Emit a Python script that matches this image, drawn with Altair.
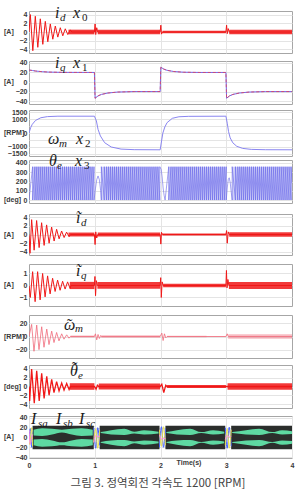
import altair as alt
import pandas as pd

# ------------------------------------------------------------------ data
time_ticks = [0, 1, 2, 3, 4]
time_grid = [1, 2, 3]

# panel 1 : i_d with estimate x0 [A]   (t, value)
id_pts = [(0.0, 0.0), (0.02, 4.1), (0.058, -4.4), (0.096, 3.7), (0.134, -3.6), (0.172, 3.1),
          (0.21, -2.9), (0.248, 2.5), (0.286, -2.3), (0.324, 1.9), (0.362, -1.7), (0.40, 1.4),
          (0.438, -1.2), (0.476, 1.0), (0.514, -0.9), (0.552, 0.75), (0.59, -0.6), (0.628, 0.5),
          (0.65, 0.0), (0.995, 0.0), (1.005, 1.9), (1.015, -0.6), (1.03, 1.0), (1.045, 0.0),
          (1.995, 0.0), (2.005, 1.6), (2.015, -0.5), (2.03, 0.0), (2.995, 0.0), (3.005, 1.6),
          (3.015, -0.4), (3.03, 0.8), (3.045, 0.0), (4.0, 0.0)]
# ripple envelopes (t_start, t_end, half amplitude)
id_ripple = [(0.6, 0.995, 0.55), (1.045, 1.995, 0.5), (2.03, 2.995, 0.28), (3.045, 4.0, 0.55)]

# panel 2 : i_q and estimate x1 [A]
iq_pts = [(0.0, 25), (0.05, 24.2), (0.1, 23), (0.2, 21.6), (0.3, 20.8), (0.5, 20.2), (0.995, 20),
          (1.005, -34), (1.05, -29), (1.1, -26), (1.2, -23), (1.35, -21), (1.6, -20), (1.995, -20),
          (2.005, 31), (2.05, 27), (2.1, 24.5), (2.2, 22), (2.35, 20.5), (2.6, 20), (2.995, 20),
          (3.005, -34), (3.05, -29), (3.1, -26), (3.2, -23), (3.35, -21), (3.6, -20), (4.0, -20)]

# panel 3 : omega_m and estimate x2 [RPM]
wm_pts = [(0.0, 0), (0.025, 380), (0.05, 620), (0.1, 900), (0.18, 1090), (0.28, 1170), (0.44, 1200),
          (0.995, 1200), (1.025, 860), (1.05, 260), (1.086, -210), (1.15, -690), (1.25, -1000),
          (1.4, -1150), (1.6, -1190), (1.995, -1200), (2.016, -570), (2.036, 0), (2.066, 430),
          (2.1, 740), (2.18, 1050), (2.28, 1160), (2.43, 1190), (2.995, 1200), (3.015, 700),
          (3.035, 100), (3.06, -350), (3.1, -700), (3.16, -950), (3.25, -1100), (3.38, -1170),
          (3.6, -1195), (4.0, -1200)]

# panel 4 : theta_e and estimate x3 [deg] : wrap instants of the saw-tooth + slow turning points
th_up1 = [0.055, 0.09, 0.12, 0.15, 0.18, 0.21, 0.24, 0.27, 0.30, 0.33, 0.36, 0.39, 0.42, 0.45,
          0.48, 0.51, 0.54, 0.57, 0.60, 0.63, 0.66, 0.69, 0.72, 0.75, 0.78, 0.81, 0.84, 0.87,
          0.90, 0.93, 0.96, 0.99]
th_bump1 = [(1.01, 120), (1.03, 220), (1.05, 260), (1.07, 220), (1.09, 100), (1.10, 0)]
th_dn1 = [1.10, 1.145, 1.18, 1.21, 1.24, 1.27, 1.30, 1.33, 1.36, 1.39, 1.42, 1.45, 1.48, 1.51,
          1.54, 1.57, 1.60, 1.63, 1.66, 1.69, 1.72, 1.75, 1.78, 1.81, 1.84, 1.87, 1.90, 1.93,
          1.96, 1.99]
th_bump2 = [(1.99, 360), (2.01, 330), (2.025, 250), (2.04, 130), (2.055, 50), (2.07, 0)]
th_up2 = [2.125, 2.16, 2.19, 2.22, 2.25, 2.28, 2.31, 2.34, 2.37, 2.40, 2.43, 2.46, 2.49, 2.52,
          2.55, 2.58, 2.61, 2.64, 2.67, 2.70, 2.73, 2.76, 2.79, 2.82, 2.85, 2.88, 2.91, 2.94,
          2.97, 3.0]
th_bump3 = [(3.015, 130), (3.03, 220), (3.045, 240), (3.06, 190), (3.075, 90), (3.09, 0)]
th_dn2 = [3.09, 3.14, 3.175, 3.205, 3.235, 3.265, 3.295, 3.325, 3.355, 3.385, 3.415, 3.445,
          3.475, 3.505, 3.535, 3.565, 3.595, 3.625, 3.655, 3.685, 3.715, 3.745, 3.775, 3.805,
          3.835, 3.865, 3.895, 3.925, 3.955, 3.985]
th_end = [(4.0, 180)]

# panel 5 : estimation error of i_d [A]
eid_pts = [(0.0, 0.0), (0.015, -4.3), (0.04, 3.4), (0.078, -3.6), (0.116, 3.2), (0.154, -3.0),
           (0.192, 2.7), (0.23, -2.5), (0.268, 2.2), (0.306, -2.0), (0.344, 1.7), (0.382, -1.5),
           (0.42, 1.2), (0.458, -1.0), (0.496, 0.8), (0.534, -0.7), (0.572, 0.55), (0.61, -0.5),
           (0.63, 0.0), (0.995, 0.0), (1.005, -2.3), (1.015, 0.6), (1.03, -0.8), (1.045, 0.0),
           (1.995, 0.0), (2.005, -2.2), (2.015, 0.5), (2.03, 0.0), (2.995, 0.0), (3.005, 0.9),
           (3.015, -2.0), (3.03, 0.6), (3.045, 0.0), (4.0, 0.0)]
eid_ripple = [(0.6, 0.995, 0.45), (1.045, 1.995, 0.45), (2.03, 2.995, 0.25), (3.045, 4.0, 0.5)]

# panel 6 : estimation error of i_q [A]
eiq_pts = [(0.0, 0.0), (0.02, -1.0), (0.055, 1.15), (0.093, -1.35), (0.131, 1.15), (0.169, -1.2),
           (0.207, 1.0), (0.245, -0.95), (0.283, 0.8), (0.321, -0.7), (0.359, 0.6), (0.397, -0.5),
           (0.435, 0.45), (0.473, -0.4), (0.511, 0.35), (0.549, -0.3), (0.587, 0.3), (0.625, -0.25),
           (0.64, 0.0), (0.995, 0.0), (1.003, 0.75), (1.012, -0.85), (1.025, 0.4), (1.04, 0.0),
           (1.995, 0.0), (2.003, 0.65), (2.012, -1.0), (2.025, 0.3), (2.04, 0.0), (2.995, 0.0),
           (3.003, 1.25), (3.012, -0.2), (3.025, 0.5), (3.04, 0.0), (4.0, 0.0)]
eiq_ripple = [(0.62, 0.995, 0.3), (1.04, 1.995, 0.28), (2.04, 2.995, 0.15), (3.04, 4.0, 0.3)]

# panel 7 : estimation error of omega_m [RPM]
ewm_pts = [(0.0, 0.0), (0.04, 18), (0.076, -22), (0.117, 17), (0.152, -19.5), (0.193, 14.5),
           (0.228, -16), (0.27, 11), (0.304, -12), (0.345, 8), (0.38, -9), (0.42, 6),
           (0.456, -6.5), (0.497, 4), (0.532, -4), (0.573, 2.5), (0.608, -2.5), (0.63, 0.0),
           (0.995, 0.0), (1.01, 4), (1.03, -5), (1.05, 3), (1.07, -3), (1.09, 1.5), (1.1, 0.0),
           (1.995, 0.0), (2.02, 5), (2.04, -6), (2.06, 4), (2.08, -2), (2.1, 0.0),
           (2.995, 0.0), (3.015, 4), (3.03, 0.0), (4.0, 0.0)]
ewm_ripple = [(0.63, 0.995, 1.5), (1.1, 1.995, 2.0), (2.1, 2.7, 1.2), (2.7, 2.995, 0.3), (3.03, 4.0, 3.5)]

# panel 8 : estimation error of theta_e [deg]
eth_pts = [(0.0, 0.0), (0.01, -3.3), (0.04, 4.0), (0.08, -3.8), (0.117, 3.6), (0.155, -3.3),
           (0.193, 3.0), (0.23, -2.7), (0.27, 2.3), (0.305, -2.0), (0.345, 1.6), (0.38, -1.4),
           (0.42, 1.1), (0.457, -1.0), (0.497, 0.8), (0.533, -0.8), (0.573, 0.7), (0.61, -0.7),
           (0.63, 0.0), (0.995, 0.0), (1.02, -0.6), (1.04, 0.3), (1.06, 0.0), (1.995, 0.0),
           (2.02, 0.5), (2.05, -1.4), (2.08, 0.3), (2.1, 0.0), (2.995, 0.0), (3.02, 0.0), (4.0, 0.0)]
eth_ripple = [(0.62, 0.995, 0.75), (1.06, 1.995, 0.7), (2.1, 2.995, 0.35), (3.02, 4.0, 0.75)]

# panel 9 : phase currents Isa, Isb, Isc [A]
iabc_peak = 24
iabc_dense = [(0.055, 0.985), (1.075, 1.985), (2.075, 2.985), (3.075, 4.0)]
# light (beat) lenses of the dense phase currents: (t, inner, outer) mirrored about 0
iabc_beat = [
    [(0.07, 4, 16), (0.2, 3, 19), (0.35, 6, 18), (0.5, 10, 16), (0.65, 6, 18), (0.8, 3, 19), (0.97, 4, 16)],
    [(1.09, 9, 11), (1.25, 6, 15), (1.45, 5, 18), (1.6, 8, 12), (1.75, 6, 15), (1.97, 8, 12)],
    [(2.09, 9, 11), (2.25, 6, 15), (2.45, 5, 18), (2.62, 9, 11), (2.8, 6, 15), (2.97, 8, 12)],
    [(3.09, 9, 11), (3.3, 6, 15), (3.5, 5, 18), (3.7, 9, 11), (3.85, 6, 15), (4.0, 7, 13)],
]
# slow phase currents while the speed reverses
isa_rev = [[(0.0, 0), (0.02, 18), (0.04, -20), (0.055, 12)],
           [(0.985, 20), (1.015, -22), (1.045, 20), (1.075, -16)],
           [(1.985, -20), (2.015, 22), (2.045, -20), (2.075, 18)],
           [(2.985, 20), (3.015, -22), (3.045, 21), (3.075, -18)]]
isb_rev = [[(0.0, -15), (0.02, -5), (0.04, 20), (0.055, -18)],
           [(0.985, -10), (1.015, 18), (1.045, -22), (1.075, 14)],
           [(1.985, 15), (2.015, -18), (2.045, 22), (2.075, -16)],
           [(2.985, -16), (3.015, 18), (3.045, -22), (3.075, 16)]]
isc_rev = [[(0.0, 15), (0.02, -14), (0.04, 0), (0.055, 6)],
           [(0.985, -10), (1.015, 4), (1.045, 2), (1.075, 2)],
           [(1.985, 5), (2.015, -4), (2.045, -2), (2.075, -2)],
           [(2.985, -4), (3.015, 4), (3.045, 1), (3.075, 2)]]

caption = "그림 3. 정역회전 각속도 1200 [RPM]"

# ------------------------------------------------------------------ helpers
ONE = pd.DataFrame({"k": [0]})
LABEL_FONT = "Liberation Sans"
MATH_FONT = "Liberation Serif"
RED = "#f01818"
W = 263


def xenc(show=False):
    if show:
        ax = alt.Axis(values=time_ticks, title=None, grid=True, ticks=False, domain=False,
                      labelFlush=False, labelPadding=3, format="d")
    else:
        ax = alt.Axis(values=time_grid, title=None, grid=True, ticks=False, domain=False, labels=False)
    return alt.X("t:Q", scale=alt.Scale(domain=[0, 4], nice=False), axis=ax)


def yscale(dom):
    return alt.Scale(domain=dom, nice=False, zero=False)


def yaxis(ticks, label_expr=None):
    kw = dict(values=ticks, title=None, grid=True, ticks=False, domain=False,
              labelPadding=2, labelOverlap=False, format="d")
    if label_expr:
        kw["labelExpr"] = label_expr
    return alt.Axis(**kw)


def line_df(pts):
    df = pd.DataFrame(pts, columns=["t", "v"])
    df["i"] = range(len(df))
    return df


def band_df(spans):
    rows = []
    for g, (a, b, h) in enumerate(spans):
        rows.append(dict(t=a, lo=-h, hi=h, g=g))
        rows.append(dict(t=b, lo=-h, hi=h, g=g))
    return pd.DataFrame(rows)


class Enc:
    """identical x / y encodings (same scale and axis) for every layer of one panel"""

    def __init__(self, dom, ticks, show_x=False, label_expr=None):
        self.dom, self.ticks, self.show_x, self.expr = dom, ticks, show_x, label_expr

    def x(self):
        return xenc(self.show_x)

    def y(self, field):
        return alt.Y(field, scale=yscale(self.dom), axis=yaxis(self.ticks, self.expr))

    def ydatum(self, v):
        return alt.YDatum(v, type="quantitative", scale=yscale(self.dom),
                          axis=yaxis(self.ticks, self.expr))


def unit_layer(unit, enc):
    return alt.Chart(ONE).mark_text(align="left", baseline="middle", font=LABEL_FONT, fontSize=7,
                                    fontWeight="bold", color="#3a3a3a").encode(
        x=alt.value(-25), y=enc.ydatum(0), text=alt.value(unit))


def math_layers(pieces, top):
    out = []
    for txt, xa, ya, size, italic in pieces:
        out.append(alt.Chart(ONE).mark_text(
            align="left", baseline="alphabetic", font=MATH_FONT, fontSize=size,
            fontStyle="italic" if italic else "normal", color="#1a1a1a").encode(
            x=alt.value(xa - 28), y=alt.value(ya - top), text=alt.value(txt)))
    return out


def osc_panel(pts, ripple, enc, h, top, unit, pieces, lw=1.0, color=RED, rip_op=0.85):
    ldf = line_df(pts)
    bdf = band_df(ripple)
    line = alt.Chart(ldf).mark_line(color=color, strokeWidth=lw, clip=True).encode(
        x=enc.x(), y=enc.y("v:Q"), order="i:Q")
    band = alt.Chart(bdf).mark_area(color=color, opacity=rip_op, clip=True).encode(
        x=enc.x(), y=enc.y("lo:Q"), y2="hi:Q", detail="g:N")
    layers = [line, band, unit_layer(unit, enc)] + math_layers(pieces, top)
    return alt.layer(*layers).properties(width=W, height=h)


# ------------------------------------------------------------------ panels
tops = [10, 60, 109, 159, 213, 263, 314, 364, 415]
heights = [42, 43, 46, 43, 41, 42, 43, 43, 42]

# 1
e1 = Enc([-4.94, 4.94], [-4, -2, 0, 2, 4])
p1 = osc_panel(id_pts, id_ripple, e1, heights[0], tops[0], "[A]",
               [("i", 54, 17, 16, True), ("d", 59, 20, 11, True), ("x", 72, 17, 16, True), ("0", 81, 20, 11, False)])
anchor = alt.Chart(ONE).mark_rule(opacity=0, strokeWidth=0.01).encode(
    x=alt.value(-28), x2=alt.value(-27), y=alt.value(-10))
p1 = alt.layer(p1, anchor)

# 2
iq_df = line_df(iq_pts)
e2 = Enc([-46, 44], [-40, -20, 0, 20, 40])
p2 = alt.layer(
    alt.Chart(iq_df).mark_line(color="#6f6cf2", strokeWidth=1, clip=True).encode(
        x=e2.x(), y=e2.y("v:Q"), order="i:Q"),
    alt.Chart(iq_df).mark_line(color="#e0405a", strokeWidth=0.8, strokeDash=[3, 2], clip=True).encode(
        x=e2.x(), y=e2.y("v:Q"), order="i:Q"),
    unit_layer("[A]", e2),
    *math_layers([("i", 54, 67, 16, True), ("q", 59, 70, 11, True), ("x", 72, 67, 16, True), ("1", 81, 70, 11, False)], tops[1]),
).properties(width=W, height=heights[1])

# 3
wm_df = line_df(wm_pts)
e3 = Enc([-1643, 1643], [-1500, -1000, -500, 0, 500, 1000, 1500],
         label_expr="abs(datum.value) == 500 ? '' : datum.label")
p3 = alt.layer(
    alt.Chart(wm_df).mark_line(color="#8a86f0", strokeWidth=1, clip=True).encode(
        x=e3.x(), y=e3.y("v:Q"), order="i:Q"),
    unit_layer("[RPM]", e3),
    *math_layers([("ω", 47, 143, 16, True), ("m", 58, 146, 11, True), ("x", 75, 143, 16, True), ("2", 84, 146, 11, False)], tops[2]),
).properties(width=W, height=heights[2])

# 4
saw = [(0.0, 0.0)]
for w in th_up1:
    saw += [(w, 360), (w, 0)]
saw += th_bump1
for w in th_dn1:
    saw += [(w, 0), (w, 360)]
saw += th_bump2
for w in th_up2:
    saw += [(w, 360), (w, 0)]
saw += th_bump3
for w in th_dn2:
    saw += [(w, 0), (w, 360)]
saw += th_end
saw_df = line_df(saw)
fill_spans = [(th_up1[0], th_up1[-1]), (th_dn1[0], th_dn1[-1]),
              (th_up2[0], th_up2[-1]), (th_dn2[0], th_end[-1][0])]
fill_rows = []
for g, (a, b) in enumerate(fill_spans):
    fill_rows += [dict(t=a, lo=0, hi=360, g=g), dict(t=b, lo=0, hi=360, g=g)]
fill_df = pd.DataFrame(fill_rows)
e4 = Enc([-32, 432], [0, 100, 200, 300, 400])
p4 = alt.layer(
    alt.Chart(fill_df).mark_area(color="#cfd0f8", clip=True).encode(
        x=e4.x(), y=e4.y("lo:Q"), y2="hi:Q", detail="g:N"),
    alt.Chart(saw_df).mark_line(color="#6664ea", strokeWidth=0.6, clip=True).encode(
        x=e4.x(), y=e4.y("v:Q"), order="i:Q"),
    unit_layer("[deg]", e4),
    *math_layers([("θ", 48, 165, 16, True), ("e", 56, 168, 11, True), ("x", 74, 165, 16, True), ("3", 83, 168, 11, False)], tops[3]),
).properties(width=W, height=heights[3])

# 5..8
p5 = osc_panel(eid_pts, eid_ripple, Enc([-4.7, 4.7], [-4, -2, 0, 2, 4]), heights[4], tops[4], "[A]",
               [("ĩ", 75, 222, 16, True), ("d", 80, 225, 11, True)])
p6 = osc_panel(eiq_pts, eiq_ripple, Enc([-1.71, 1.79], [-1, 0, 1]), heights[5], tops[5], "[A]",
               [("ĩ", 75, 275, 16, True), ("q", 80, 278, 11, True)])
p7 = osc_panel(ewm_pts, ewm_ripple, Enc([-32, 32], [-20, 0, 20]), heights[6], tops[6], "[RPM]",
               [("ω", 63, 329, 16, True), ("˜", 66, 328.5, 16, False), ("m", 74, 331, 11, True)],
               lw=0.8, color="#f06a7a", rip_op=0.45)
p8 = osc_panel(eth_pts, eth_ripple, Enc([-4.9, 4.9], [-4, -2, 0, 2, 4]), heights[7], tops[7], "[deg]",
               [("θ", 69, 375, 16, True), ("˜", 71, 371.5, 16, False), ("e", 77, 378, 11, True)], lw=1.3)

# 9
e9 = Enc([-42, 44], [-40, -20, 0, 20, 40], show_x=True)
dense_rows = []
for g, (a, b) in enumerate(iabc_dense):
    dense_rows += [dict(t=a, lo=-iabc_peak, hi=iabc_peak, g=g), dict(t=b, lo=-iabc_peak, hi=iabc_peak, g=g)]
dense_df = pd.DataFrame(dense_rows)
beat_rows = []
for g, seg in enumerate(iabc_beat):
    for t, inner, outer in seg:
        beat_rows.append(dict(t=t, lo=inner, hi=outer, g=f"u{g}"))
        beat_rows.append(dict(t=t, lo=-outer, hi=-inner, g=f"l{g}"))
beat_df = pd.DataFrame(beat_rows)
rev_rows = []
for name, series in (("a", isa_rev), ("b", isb_rev), ("c", isc_rev)):
    for g, seg in enumerate(series):
        for k, (t, v) in enumerate(seg):
            rev_rows.append(dict(t=t, v=v, ph=name, g=f"{name}{g}", i=k))
rev_df = pd.DataFrame(rev_rows)

p9 = alt.layer(
    alt.Chart(dense_df).mark_area(color="#2b2e2c", clip=True).encode(
        x=e9.x(), y=e9.y("lo:Q"), y2="hi:Q", detail="g:N"),
    alt.Chart(beat_df).mark_area(color="#5ed9a2", clip=True, interpolate="monotone").encode(
        x=e9.x(), y=e9.y("lo:Q"), y2="hi:Q", detail="g:N"),
    alt.Chart(rev_df).mark_line(strokeWidth=1, clip=True, interpolate="monotone").encode(
        x=e9.x(), y=e9.y("v:Q"), detail="g:N", order="i:Q",
        color=alt.Color("ph:N", scale=alt.Scale(domain=["a", "b", "c"],
                                                range=["#3d5cff", "#e8e04a", "#ff85e0"]), legend=None)),
    unit_layer("[A]", e9),
    *math_layers([("I", 30, 423, 16, True), ("sa", 37, 426, 11, True),
                  ("I", 55, 423, 16, True), ("sb", 62, 426, 11, True),
                  ("I", 78, 423, 16, True), ("sc", 85, 426, 11, True)], tops[8]),
    alt.Chart(ONE).mark_text(font=LABEL_FONT, fontSize=7, fontWeight="bold", color="#3a3a3a",
                             baseline="middle").encode(
        x=alt.value(160), y=alt.value(47), text=alt.value("Time(s)")),
    alt.Chart(ONE).mark_text(font="Noto Sans CJK KR", fontSize=11.5, color="#444444",
                             align="center", baseline="middle").encode(
        x=alt.value(129), y=alt.value(68), text=alt.value(caption)),
).properties(width=W, height=heights[8])

panels = [p1, p2, p3, p4, p5, p6, p7, p8, p9]
gaps = [tops[k + 1] - tops[k] - heights[k] for k in range(8)]


def stack(ps, gs):
    if len(ps) == 1:
        return ps[0]
    return alt.vconcat(ps[0], stack(ps[1:], gs[1:]), spacing=gs[0], bounds="flush")


chart = stack(panels, gaps).properties(padding=0).configure_view(
    stroke="#a6a6a6", strokeWidth=1
).configure_axis(
    labelFont=LABEL_FONT, labelFontSize=7, labelFontWeight="bold", labelColor="#3a3a3a",
    gridColor="#e4e4e4", gridWidth=1
)

chart.save("out.html", embed_options={"renderer": "svg", "actions": False})
